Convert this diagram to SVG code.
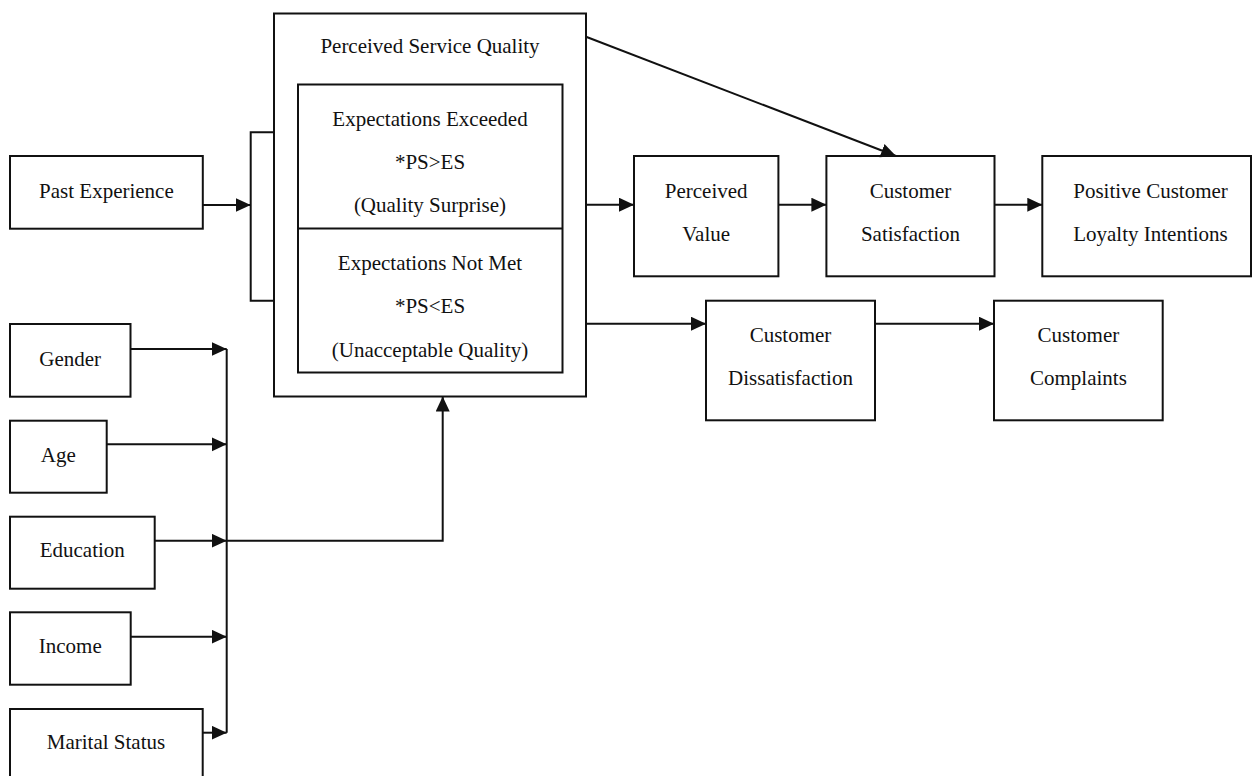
<svg xmlns="http://www.w3.org/2000/svg" width="1252" height="776" viewBox="0 0 1252 776">
  <style>
    .box { fill: #ffffff; stroke: #111111; stroke-width: 2; }
    .line { fill: none; stroke: #111111; stroke-width: 2; }
    .arrow { fill: none; stroke: #111111; stroke-width: 2; marker-end: url(#head); }
    text { font-family: "Liberation Serif", "Times New Roman", serif; font-size: 21px; fill: #111111; text-anchor: middle; }
  </style>
  <defs>
    <marker id="head" markerUnits="userSpaceOnUse" markerWidth="16" markerHeight="15" refX="15" refY="7" orient="auto">
      <path d="M0,0 L15,7 L0,14 Z" fill="#111111"/>
    </marker>
  </defs>
  <rect width="1252" height="776" fill="#ffffff"/>

  <!-- Perceived service quality with its two outcome panels -->
  <g id="perceived-service-quality">
    <rect class="box" x="274" y="13.5" width="312" height="383"/>
    <text x="430" y="53">Perceived Service Quality</text>
    <rect class="box" x="298" y="84.5" width="264.5" height="288"/>
    <line class="line" x1="298" y1="228.5" x2="562.5" y2="228.5"/>
  </g>
  <g id="expectations-exceeded">
    <text x="430" y="125.5">Expectations Exceeded</text>
    <text x="430" y="168.5">*PS&gt;ES</text>
    <text x="430" y="211.5">(Quality Surprise)</text>
  </g>
  <g id="expectations-not-met">
    <text x="430" y="269.5">Expectations Not Met</text>
    <text x="430" y="313">*PS&lt;ES</text>
    <text x="430" y="356.5">(Unacceptable Quality)</text>
  </g>

  <g id="past-experience">
    <rect class="box" x="10" y="156" width="192.8" height="72.7"/>
    <text x="106.4" y="197.7">Past Experience</text>
  </g>
  <g id="gender">
    <rect class="box" x="10" y="324" width="120.5" height="72.7"/>
    <text x="70.2" y="366">Gender</text>
  </g>
  <g id="age">
    <rect class="box" x="10" y="420.7" width="96.7" height="72"/>
    <text x="58.3" y="461.5">Age</text>
  </g>
  <g id="education">
    <rect class="box" x="10" y="516.7" width="144.7" height="72"/>
    <text x="82.3" y="557">Education</text>
  </g>
  <g id="income">
    <rect class="box" x="10" y="612.3" width="120.7" height="72.4"/>
    <text x="70.3" y="653">Income</text>
  </g>
  <g id="marital-status">
    <rect class="box" x="10" y="709" width="192.7" height="72"/>
    <text x="106" y="749.3">Marital Status</text>
  </g>

  <g id="perceived-value">
    <rect class="box" x="634" y="156" width="144.4" height="120.3"/>
    <text x="706.2" y="197.5">Perceived</text>
    <text x="706.2" y="240.5">Value</text>
  </g>
  <g id="customer-satisfaction">
    <rect class="box" x="826.4" y="156" width="168.1" height="120.3"/>
    <text x="910.5" y="197.5">Customer</text>
    <text x="910.5" y="240.5">Satisfaction</text>
  </g>
  <g id="loyalty-intentions">
    <rect class="box" x="1042.3" y="156" width="208.7" height="120.3"/>
    <text x="1150.5" y="197.5">Positive Customer</text>
    <text x="1150.5" y="240.5">Loyalty Intentions</text>
  </g>
  <g id="customer-dissatisfaction">
    <rect class="box" x="706" y="300.7" width="169" height="119.6"/>
    <text x="790.5" y="341.5">Customer</text>
    <text x="790.5" y="384.5">Dissatisfaction</text>
  </g>
  <g id="customer-complaints">
    <rect class="box" x="994" y="300.7" width="168.7" height="119.6"/>
    <text x="1078.4" y="341.5">Customer</text>
    <text x="1078.4" y="384.5">Complaints</text>
  </g>

  <g id="connectors">
    <!-- bracket joining past experience to the quality block -->
    <path class="line" d="M274,132.3 H250.7 V300.7 H274"/>
    <line class="arrow" x1="202.8" y1="205" x2="250.7" y2="205"/>

    <!-- demographic bus -->
    <line class="line" x1="226.7" y1="349" x2="226.7" y2="732.7"/>
    <line class="arrow" x1="130.5" y1="349" x2="226.7" y2="349"/>
    <line class="arrow" x1="106.7" y1="444.3" x2="226.7" y2="444.3"/>
    <line class="arrow" x1="154.7" y1="540.7" x2="226.7" y2="540.7"/>
    <line class="arrow" x1="130.7" y1="636.7" x2="226.7" y2="636.7"/>
    <line class="arrow" x1="202.7" y1="732.7" x2="226.7" y2="732.7"/>
    <path class="arrow" d="M226.7,540.7 H442.7 V396.5"/>

    <!-- outcomes -->
    <line class="arrow" x1="586" y1="36.7" x2="896" y2="156"/>
    <line class="arrow" x1="586" y1="204.7" x2="634" y2="204.7"/>
    <line class="arrow" x1="778.4" y1="204.7" x2="826.4" y2="204.7"/>
    <line class="arrow" x1="994.5" y1="204.7" x2="1042.3" y2="204.7"/>
    <line class="arrow" x1="586" y1="323.7" x2="706" y2="323.7"/>
    <line class="arrow" x1="875" y1="323.7" x2="994" y2="323.7"/>
  </g>
</svg>
